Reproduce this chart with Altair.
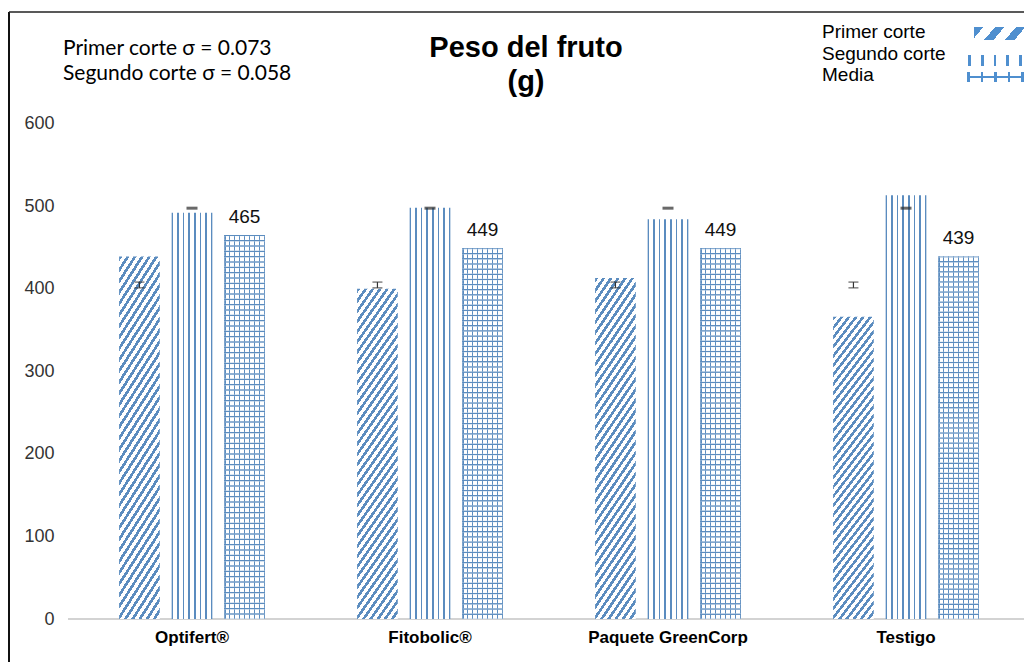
import math
import altair as alt
import pandas as pd

# ---------------- data ----------------
categorias = ["Optifert®", "Fitobolic®", "Paquete GreenCorp", "Testigo"]
series = ["Primer corte", "Segundo corte", "Media"]
primer_corte = [439, 400, 413, 366]
segundo_corte = [492, 498, 484, 513]
media = [465, 449, 449, 439]
err_primer_centro = [404.5, 404.5, 404.5, 404.5]
err_primer_mitad = [3.5, 3.5, 3.5, 3.5]
err_segundo_centro = [497.5, 497.5, 497.5, 497.5]
err_segundo_mitad = [1.0, 1.0, 1.0, 1.0]
y_ticks = [0, 100, 200, 300, 400, 500, 600]
titulo = ["Peso del fruto", "(g)"]
notas = ["Primer corte σ = 0.073", "Segundo corte σ = 0.058"]

rows = []
for i, c in enumerate(categorias):
    rows.append({"tratamiento": c, "serie": series[0], "valor": primer_corte[i]})
    rows.append({"tratamiento": c, "serie": series[1], "valor": segundo_corte[i]})
    rows.append({"tratamiento": c, "serie": series[2], "valor": media[i]})
df = pd.DataFrame(rows)

erows = []
for i, c in enumerate(categorias):
    erows.append({"tratamiento": c, "serie": series[0],
                  "lo": err_primer_centro[i] - err_primer_mitad[i],
                  "hi": err_primer_centro[i] + err_primer_mitad[i]})
    erows.append({"tratamiento": c, "serie": series[1],
                  "lo": err_segundo_centro[i] - err_segundo_mitad[i],
                  "hi": err_segundo_centro[i] + err_segundo_mitad[i]})
df_err = pd.DataFrame(erows)

# ---------------- pattern helpers (gradient stripes) ----------------
BLUE = "#5b8cbf"
LEG_BLUE = "#4f8fcf"
WHITE = "#ffffff"
CLEAR = "rgba(255,255,255,0)"


def edge_stripes(n_lines, frac, line, gap):
    """n_lines lines, the first at offset 0 and the last ending at 1."""
    p = 1.0 / (n_lines - 1 + frac)
    st = []
    for i in range(n_lines):
        a = round(i * p, 5)
        b = round(min(1.0, i * p + frac * p), 5)
        st += [(a, line), (b, line)]
        if i < n_lines - 1:
            c = round((i + 1) * p, 5)
            st += [(b, gap), (c, gap)]
    return [alt.GradientStop(offset=o, color=col) for o, col in st]


def soft_stripes(n, line, gap):
    """n periods with softened edges (avoids moire on thin lines)."""
    p = 1.0 / n
    st = []
    for i in range(n):
        o = i * p
        st += [(o, line), (o + 0.12 * p, line), (o + 0.32 * p, gap), (o + 0.82 * p, gap)]
    st.append((1.0, line))
    return [alt.GradientStop(offset=round(o, 5), color=col) for o, col in st]


def periodic(n, frac, line, gap):
    st = []
    for i in range(n):
        a = round(i / n, 5)
        b = round((i + frac) / n, 5)
        c = round((i + 1) / n, 5)
        st += [(a, line), (b, line), (b, gap), (c, gap)]
    return [alt.GradientStop(offset=o, color=col) for o, col in st]


def vgrad(stops):  # stripes varying along x (vertical lines)
    return alt.LinearGradient(gradient="linear", x1=0, y1=0, x2=1, y2=0, stops=stops)


def hgrad(stops):  # stripes varying along y (horizontal lines)
    return alt.LinearGradient(gradient="linear", x1=0, y1=0, x2=0, y2=1, stops=stops)


def diag(w, h, theta, spacing, frac, line, gap):
    th = math.radians(theta)
    a = w * math.sin(th)
    b = h * math.cos(th)
    span = a + b
    s = span / (a * a + b * b)
    n = max(2, round(span / spacing))
    return alt.LinearGradient(gradient="linear", x1=0, y1=0,
                              x2=round(a * s, 5), y2=round(b * s, 5),
                              stops=periodic(n, frac, line, gap))


fill_primer = diag(41, 334, 55, 6.0, 0.45, BLUE, WHITE)
fill_segundo = vgrad(edge_stripes(8, 0.3, BLUE, WHITE))
fill_media_v = vgrad(edge_stripes(9, 0.26, BLUE, WHITE))
fill_media_h = hgrad(soft_stripes(72, BLUE, CLEAR))

leg_primer = diag(52, 13, 50, 15, 0.45, LEG_BLUE, WHITE)
leg_segundo = vgrad(edge_stripes(5, 0.22, LEG_BLUE, WHITE))
leg_media_v = vgrad(edge_stripes(5, 0.22, LEG_BLUE, WHITE))
leg_media_h = hgrad([alt.GradientStop(offset=o, color=c) for o, c in
                     [(0, CLEAR), (0.42, CLEAR), (0.42, LEG_BLUE), (0.6, LEG_BLUE), (0.6, CLEAR), (1, CLEAR)]])

# ---------------- scales / encodings ----------------
FONT = "Liberation Sans"
W, H = 1016, 654
Y_DOMAIN = [-52.07, 739.9]

x_scale = alt.Scale(domain=categorias, range=[65, 1017], paddingInner=0, paddingOuter=0)
x_axis = alt.Axis(title=None, labelAngle=0, ticks=False, domain=False, grid=False,
                  labelFont=FONT, labelFontWeight="bold", labelFontSize=17, labelColor="#000000",
                  labelPadding=10, offset=-43)
y_scale = alt.Scale(domain=Y_DOMAIN, nice=False, zero=False)
y_axis = alt.Axis(title=None, values=y_ticks, ticks=False, domain=False, grid=False,
                  labelFont=FONT, labelFontSize=18, labelColor="#333333",
                  labelPadding=0, offset=-46)

X = alt.X("tratamiento:N", sort=categorias, scale=x_scale, axis=x_axis)
XO = alt.XOffset("serie:N", sort=series,
                 scale=alt.Scale(domain=series, paddingInner=0.226, paddingOuter=0.877))
Y = alt.Y("valor:Q", scale=y_scale, axis=y_axis)

base = alt.Chart(df)

bar_primer = base.transform_filter(alt.datum.serie == series[0]).mark_bar(
    fill=fill_primer, strokeWidth=0).encode(x=X, xOffset=XO, y=Y, y2=alt.datum(0))
bar_segundo = base.transform_filter(alt.datum.serie == series[1]).mark_bar(
    fill=fill_segundo, strokeWidth=0).encode(x=X, xOffset=XO, y=Y, y2=alt.datum(0))
bar_media_v = base.transform_filter(alt.datum.serie == series[2]).mark_bar(
    fill=fill_media_v, strokeWidth=0).encode(x=X, xOffset=XO, y=Y, y2=alt.datum(0))
bar_media_h = base.transform_filter(alt.datum.serie == series[2]).mark_bar(
    fill=fill_media_h, strokeWidth=0).encode(x=X, xOffset=XO, y=Y, y2=alt.datum(0))

labels_media = base.transform_filter(alt.datum.serie == series[2]).mark_text(
    dy=-12, baseline="alphabetic", font=FONT, fontSize=19, color="#111111").encode(
    x=X, xOffset=XO, y=Y, text=alt.Text("valor:Q", format="d"))

ebase = alt.Chart(df_err)
e1 = ebase.transform_filter(alt.datum.serie == series[0])
e2 = ebase.transform_filter(alt.datum.serie == series[1]).transform_calculate(
    mid="(datum.lo + datum.hi) / 2")
err_rule = e1.mark_rule(color="#333333", strokeWidth=1.2).encode(
    x=X, xOffset=XO, y=alt.Y("lo:Q", scale=y_scale, axis=y_axis), y2="hi:Q")
err_lo = e1.mark_tick(color="#333333", thickness=1.3, size=10, orient="horizontal").encode(
    x=X, xOffset=XO, y=alt.Y("lo:Q", scale=y_scale, axis=y_axis))
err_hi = e1.mark_tick(color="#333333", thickness=1.3, size=10, orient="horizontal").encode(
    x=X, xOffset=XO, y=alt.Y("hi:Q", scale=y_scale, axis=y_axis))
err2 = e2.mark_tick(color="#2a2a2a", thickness=3, size=11, orient="horizontal").encode(
    x=X, xOffset=XO, y=alt.Y("mid:Q", scale=y_scale, axis=y_axis))

one = pd.DataFrame({"k": [0]})
baseline = alt.Chart(one).mark_rule(color="#c4c4c4", strokeWidth=1.5).encode(
    x=alt.value(60), x2=alt.value(1017), y=alt.value(611))

border_left = alt.Chart(one).mark_rule(color="#111111", strokeWidth=2).encode(
    x=alt.value(1), y=alt.value(4), y2=alt.value(H))
border_top = alt.Chart(one).mark_rule(color="#222222", strokeWidth=1.5).encode(
    x=alt.value(1), x2=alt.value(W), y=alt.value(4))


def text_layer(s, x, y, align="left", **kw):
    return alt.Chart(pd.DataFrame({"texto": [s]})).mark_text(
        align=align, baseline="middle", **kw).encode(
        x=alt.value(x), y=alt.value(y), text="texto:N")


ann1 = text_layer(notas[0], 55, 41, font="Lato", fontSize=21, color="#000000")
ann2 = text_layer(notas[1], 55, 66, font="Lato", fontSize=21, color="#000000")
tit1 = text_layer(titulo[0], 518, 40, align="center", font=FONT, fontSize=29,
                  fontWeight="bold", color="#000000")
tit2 = text_layer(titulo[1], 518, 74, align="center", font=FONT, fontSize=29,
                  fontWeight="bold", color="#000000")
leg_t1 = text_layer(series[0], 814, 24, font=FONT, fontSize=19, color="#000000")
leg_t2 = text_layer(series[1], 814, 46, font=FONT, fontSize=19, color="#000000")
leg_t3 = text_layer(series[2], 814, 67, font=FONT, fontSize=19, color="#000000")


def swatch(fill, x, x2, y, y2):
    return alt.Chart(one).mark_rect(fill=fill, strokeWidth=0).encode(
        x=alt.value(x), x2=alt.value(x2), y=alt.value(y), y2=alt.value(y2))


sw1 = swatch(leg_primer, 966, 1018, 19, 32)
sw2 = swatch(leg_segundo, 960, 1014, 47, 58)
sw3a = swatch(leg_media_v, 959, 1016, 64, 74)
sw3b = swatch(leg_media_h, 959, 1016, 64, 74)

chart = alt.layer(
    baseline, bar_primer, bar_segundo, bar_media_v, bar_media_h,
    err_rule, err_lo, err_hi, err2, labels_media,
    border_left, border_top, ann1, ann2, tit1, tit2,
    leg_t1, leg_t2, leg_t3, sw1, sw2, sw3a, sw3b,
).properties(
    width=W, height=H, autosize="none",
    padding={"left": 0, "top": 0, "right": 0, "bottom": 0},
    background="#ffffff",
).configure_view(stroke=None)

chart.save("out.html", embed_options={"renderer": "svg", "actions": False})
